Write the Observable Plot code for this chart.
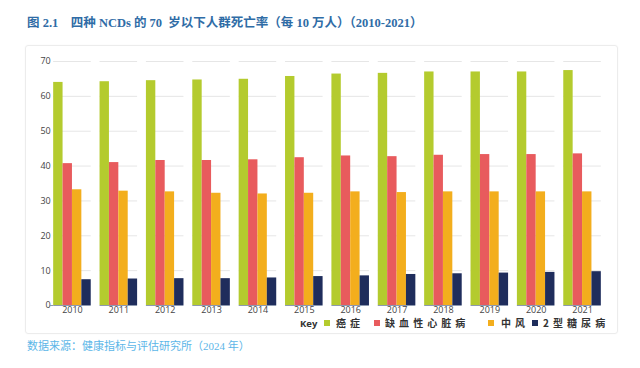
<!DOCTYPE html>
<html>
<head>
<meta charset="utf-8">
<script src="https://cdn.jsdelivr.net/npm/d3@7"></script>
<script src="https://cdn.jsdelivr.net/npm/@observablehq/plot@0.6"></script>
<style>
  html, body { margin: 0; padding: 0; background: #fff; width: 640px; height: 368px; overflow: hidden; }
  #title { position: absolute; left: 27px; top: 12px; font: bold 12.5px "Liberation Serif", "Noto Sans CJK SC", serif; color: #2f6ca6; white-space: nowrap; }
  #panel { position: absolute; left: 25px; top: 45px; width: 591px; height: 287px; border: 1px solid #ececec; border-radius: 3px; box-shadow: 0 0 2px rgba(0,0,0,0.04); }
  #chart { position: absolute; left: 0; top: 50px; }
  #legend { position: absolute; left: 0; top: 317px; height: 12px; width: 640px; font: bold 10px "Noto Sans CJK SC", sans-serif; color: #333; }
  #legend span { position: absolute; top: 0; white-space: nowrap; line-height: 11px; }
  #legend .sw { width: 6px; height: 6px; top: 3px; }
  #legend .key { font: bold 9.5px "Open Sans", sans-serif; color: #333; }
  #legend .lab { letter-spacing: 0.9px; }
  #source { position: absolute; left: 27px; top: 337px; font: 11px "Liberation Serif", "Noto Sans CJK SC", serif; color: #5cb6e8; white-space: nowrap; }
</style>
</head>
<body>
<div id="title">图 2.1　四种 NCDs 的 70&nbsp; 岁以下人群死亡率（每 10 万人）（2010-2021）</div>
<div id="panel"></div>
<div id="chart"></div>
<div id="legend"></div>
<div id="source">数据来源：健康指标与评估研究所（2024 年）</div>
<script>
const years = [2010, 2011, 2012, 2013, 2014, 2015, 2016, 2017, 2018, 2019, 2020, 2021];
const diseases = ["癌症", "缺血性心脏病", "中风", "2型糖尿病"];
const legendLabels = ["癌 症", "缺 血 性 心 脏 病", "中 风", "2 型 糖 尿 病"];
const cancer   = [64.0, 64.2, 64.5, 64.7, 64.9, 65.7, 66.4, 66.6, 67.0, 67.0, 67.0, 67.4];
const ihd      = [40.7, 41.0, 41.6, 41.6, 41.8, 42.4, 42.9, 42.7, 43.1, 43.3, 43.3, 43.5];
const stroke   = [33.2, 32.8, 32.6, 32.2, 32.0, 32.2, 32.6, 32.4, 32.6, 32.6, 32.6, 32.6];
const diabetes = [7.4, 7.6, 7.7, 7.7, 7.9, 8.3, 8.5, 8.9, 9.1, 9.3, 9.5, 9.7];
const yTicks = [0, 10, 20, 30, 40, 50, 60, 70];
const colors = ["#b4cb2e", "#e85b5d", "#f3ae1d", "#1f2d5c"];

const series = [cancer, ihd, stroke, diabetes];
const data = years.flatMap((yr, i) => diseases.map((d, j) => ({ year: yr, disease: d, value: series[j][i] })));

const chart = Plot.plot({
  width: 640,
  height: 270,
  marginTop: 11,
  marginBottom: 15,
  marginLeft: 49,
  marginRight: 35,
  style: { fontFamily: "'Open Sans', sans-serif", fontSize: "9px", color: "#444", background: "transparent" },
  fx: { domain: years, paddingInner: 0.19, paddingOuter: 0.09, round: false, label: null, axis: "bottom", tickSize: 0, tickPadding: 1, tickFormat: d => String(d) },
  x: { domain: diseases, axis: null, padding: 0, round: false },
  y: { domain: [0, 70], label: null, axis: null },
  color: { domain: diseases, range: colors },
  marks: [
    Plot.gridY(yTicks.slice(1), { stroke: "#e6e6e6", strokeOpacity: 1 }),
    Plot.barY(data, { fx: "year", x: "disease", y: "value", fill: "disease" }),
    Plot.ruleY([0], { stroke: "#8d99b0", strokeWidth: 1 }),
    Plot.axisY(yTicks, { tickSize: 0, tickPadding: 3, fontSize: 9, fill: "#444", label: null }),
    Plot.axisY([0], { tickSize: 4, text: null, stroke: "#8d99b0", label: null })
  ]
});
document.getElementById("chart").appendChild(chart);

// legend
const legend = document.getElementById("legend");
const items = [
  { cls: "key", text: "Key", left: 300 },
  { sw: 0, left: 324 }, { lab: 0, left: 336 },
  { sw: 1, left: 374 }, { lab: 1, left: 385 },
  { sw: 2, left: 488 }, { lab: 2, left: 501 },
  { sw: 3, left: 532 }, { lab: 3, left: 543 }
];
for (const it of items) {
  const s = document.createElement("span");
  s.style.left = it.left + "px";
  if (it.cls) { s.className = it.cls; s.textContent = it.text; }
  else if (it.sw !== undefined) { s.className = "sw"; s.style.background = colors[it.sw]; }
  else { s.className = "lab"; s.textContent = legendLabels[it.lab]; }
  legend.appendChild(s);
}
</script>
</body>
</html>
